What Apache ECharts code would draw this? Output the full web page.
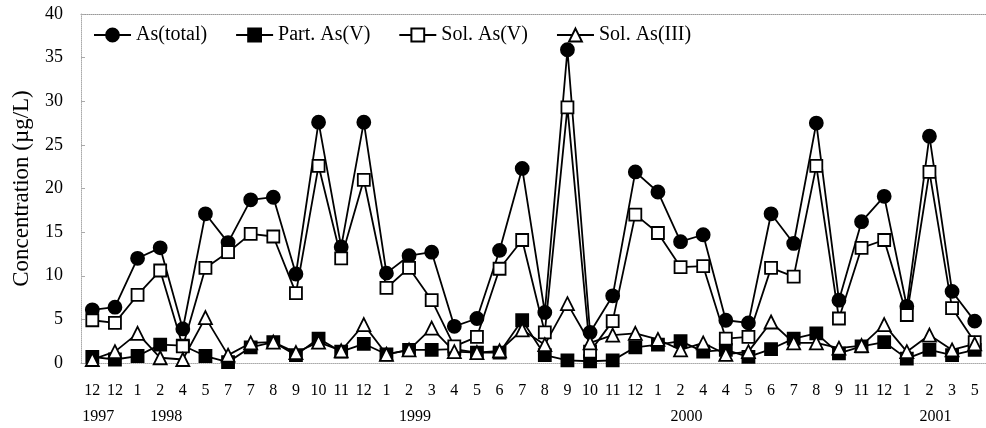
<!DOCTYPE html>
<html>
<head>
<meta charset="utf-8">
<script src="https://cdn.jsdelivr.net/npm/echarts@6/dist/echarts.min.js"></script>
<style>
  html, body { margin: 0; padding: 0; background: #fff; }
  #chart { width: 986px; height: 428px; }
</style>
</head>
<body>
<div id="chart"></div>
<script>
// sampling months along the x axis (40 samples)
const months = ['12', '12', '1', '2', '4', '5', '7', '7', '8', '9', '10', '11', '12',
  '1', '2', '3', '4', '5', '6', '7', '8', '9', '10', '11', '12',
  '1', '2', '4', '4', '5', '6', '7', '8', '9', '11', '12',
  '1', '2', '3', '5']
const years = { 0: '1997', 3: '1998', 14: '1999', 26: '2000', 37: '2001' }

const asTotal = [6.1, 6.4, 12.0, 13.2, 3.9, 17.1, 13.8, 18.7, 19.0, 10.2, 27.6, 13.3, 27.6,
  10.3, 12.3, 12.7, 4.2, 5.1, 12.9, 22.3, 5.8, 35.9, 3.5, 7.7, 21.9,
  19.6, 13.9, 14.7, 4.9, 4.6, 17.1, 13.7, 27.5, 7.2, 16.2, 19.1,
  6.5, 26.0, 8.2, 4.8]
const partV = [0.7, 0.4, 0.8, 2.1, 2.0, 0.8, 0.1, 1.8, 2.4, 0.9, 2.8, 1.3, 2.2,
  1.0, 1.5, 1.5, 1.6, 1.2, 1.2, 4.9, 0.9, 0.3, 0.2, 0.3, 1.8,
  2.1, 2.5, 1.3, 1.5, 0.7, 1.6, 2.8, 3.4, 1.1, 1.9, 2.4,
  0.5, 1.5, 0.9, 1.5]
const solV = [4.9, 4.6, 7.8, 10.6, 1.9, 10.9, 12.7, 14.8, 14.5, 8.0, 22.6, 12.0, 21.0,
  8.6, 10.9, 7.2, 1.9, 3.0, 10.8, 14.1, 3.5, 29.3, 1.3, 4.8, 17.0,
  14.9, 11.0, 11.1, 2.8, 3.0, 10.9, 9.9, 22.6, 5.1, 13.2, 14.1,
  5.5, 21.9, 6.3, 2.4]
const solIII = [0.4, 1.3, 3.4, 0.6, 0.4, 5.2, 0.9, 2.3, 2.4, 1.2, 2.4, 1.4, 4.4,
  1.0, 1.5, 4.0, 1.3, 1.2, 1.4, 3.8, 2.1, 6.8, 2.3, 3.2, 3.4,
  2.7, 1.5, 2.3, 1.0, 1.3, 4.7, 2.3, 2.3, 1.7, 2.0, 4.4,
  1.3, 3.2, 1.5, 2.2]

const font = 'Liberation Serif'
const idx = months.map((m, i) => i)

function mkSeries (name, data, symbol, size, fill) {
  return {
    name: name,
    type: 'line',
    data: data,
    symbol: symbol,
    symbolSize: size,
    showAllSymbol: true,
    lineStyle: { color: '#000', width: 1.8 },
    itemStyle: { color: fill, borderColor: '#000', borderWidth: 1.8 }
  }
}

const chart = echarts.init(document.getElementById('chart'))

const option = {
  animation: false,
  backgroundColor: '#fff',
  textStyle: { fontFamily: font, color: '#000' },
  grid: { left: 81, right: -6, top: 14, bottom: 65 },
  legend: {
    left: 88,
    top: 20,
    itemWidth: 37,
    itemHeight: 16,
    itemGap: 28,
    textStyle: { fontFamily: font, fontSize: 20, color: '#000' },
    data: ['As(total)', 'Part. As(V)', 'Sol. As(V)', 'Sol. As(III)']
  },
  xAxis: [
    {
      type: 'category',
      data: idx,
      boundaryGap: true,
      axisLine: { lineStyle: { color: '#aaa', type: 'dotted', width: 1 } },
      axisTick: { show: false },
      axisLabel: {
        interval: 0,
        margin: 20,
        fontSize: 16,
        color: '#000',
        fontFamily: font,
        formatter: (v, i) => months[i]
      }
    },
    {
      type: 'category',
      data: idx,
      position: 'bottom',
      boundaryGap: true,
      axisLine: { show: false },
      axisTick: { show: false },
      axisLabel: {
        interval: 0,
        margin: 46,
        fontSize: 16,
        color: '#000',
        fontFamily: font,
        formatter: (v, i) => years[i] ? '{y|' + years[i] + '}' : '',
        rich: { y: { fontSize: 16, fontFamily: font, color: '#000', padding: [0, 0, 0, 12] } }
      }
    },
    {
      type: 'category',
      data: idx,
      position: 'top',
      axisLine: { lineStyle: { color: '#999', type: 'dotted', width: 1 } },
      axisTick: { show: false },
      axisLabel: { show: false }
    }
  ],
  yAxis: {
    type: 'value',
    min: 0,
    max: 40,
    interval: 5,
    name: 'Concentration (µg/L)',
    nameLocation: 'middle',
    nameGap: 48,
    nameTextStyle: { fontFamily: font, fontSize: 23, color: '#000' },
    axisLine: { show: true, lineStyle: { color: '#aaa', type: 'dotted', width: 1 } },
    axisTick: { show: true, inside: true, length: 4, lineStyle: { color: '#aaa' } },
    splitLine: { show: false },
    axisLabel: { margin: 18, fontSize: 18, color: '#000', fontFamily: font }
  },
  series: [
    mkSeries('As(total)', asTotal, 'circle', 13, '#000'),
    mkSeries('Part. As(V)', partV, 'rect', 12, '#000'),
    mkSeries('Sol. As(V)', solV, 'rect', 12, '#fff'),
    mkSeries('Sol. As(III)', solIII, 'triangle', 13, '#fff')
  ]
}

chart.setOption(option)
</script>
</body>
</html>
